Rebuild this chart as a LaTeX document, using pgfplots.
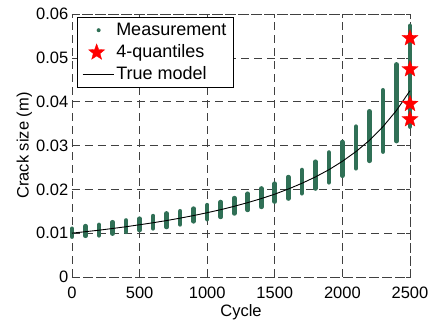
\documentclass[border=0pt]{standalone}
\usepackage{pgfplots}
\pgfplotsset{compat=1.18}
\usepackage{fontspec}
\setmainfont{Liberation Sans}
\definecolor{meas}{RGB}{48,112,86}
\newcommand\fs{\fontsize{16.5}{19}\selectfont}
\newcommand\fl{\fontsize{18}{20}\selectfont}
\pgfdeclareplotmark{fstar}{%
 \pgfpathmoveto{\pgfpointpolar{90}{\pgfplotmarksize}}%
 \pgfpathlineto{\pgfpointpolar{126}{0.42\pgfplotmarksize}}%
 \pgfpathlineto{\pgfpointpolar{162}{\pgfplotmarksize}}%
 \pgfpathlineto{\pgfpointpolar{198}{0.42\pgfplotmarksize}}%
 \pgfpathlineto{\pgfpointpolar{234}{\pgfplotmarksize}}%
 \pgfpathlineto{\pgfpointpolar{270}{0.42\pgfplotmarksize}}%
 \pgfpathlineto{\pgfpointpolar{306}{\pgfplotmarksize}}%
 \pgfpathlineto{\pgfpointpolar{342}{0.42\pgfplotmarksize}}%
 \pgfpathlineto{\pgfpointpolar{18}{\pgfplotmarksize}}%
 \pgfpathlineto{\pgfpointpolar{54}{0.42\pgfplotmarksize}}%
 \pgfpathclose
 \pgfusepathqfillstroke}
\begin{document}
\begin{tikzpicture}
\useasboundingbox (-72pt,-44pt) rectangle (359pt,277pt);
\begin{axis}[
 at={(0pt,0pt)}, anchor=south west,
 scale only axis, width=338pt, height=263pt,
 xmin=0, xmax=2500, ymin=0, ymax=0.06,
 xtick={0,500,1000,1500,2000,2500},
 xticklabels={0,500,1000,1500,2000,2500},
 ytick={0,0.01,0.02,0.03,0.04,0.05,0.06},
 yticklabels={0,0.01,0.02,0.03,0.04,0.05,0.06},
 scaled y ticks=false, scaled x ticks=false,
 /pgf/number format/assume math mode=true,
 tick label style={font=\fs},
 yticklabel style={inner sep=3.5pt},
 xticklabel style={inner sep=2pt, yshift=-8pt},
 label style={font=\fs},
 xlabel={Cycle}, ylabel={Crack size (m)},
 xlabel style={yshift=0pt},
 ylabel style={yshift=-3pt},
 grid=major,
 grid style={black!75, line width=0.6pt, dash pattern=on 8pt off 5pt},
 axis line style={black!75, line width=0.6pt, dash pattern=on 8pt off 5pt},
 tick align=inside, major tick length=4pt,
 tick style={black!75, line width=0.6pt},
 clip=false,
 unbounded coords=jump,
 legend style={at={(0.0157,0.9897)}, anchor=north west, draw=black,
   line width=0.8pt, font=\fl, fill=white,
   inner xsep=4.5pt, inner ysep=2pt, row sep=0pt,
   nodes={inner xsep=2.15pt, inner ysep=2.85pt, text height=13.5pt, text depth=3pt},
   cells={anchor=west}},
 legend cell align=left,
]
\addplot[meas, line width=4.6pt, line cap=round,
  legend image code/.code={\path[draw=none,fill=none] (0pt,0pt) -- (31pt,0pt);\fill[meas, draw=none] (16pt,0pt) circle (2pt);}]
 table[row sep=\\] {
x y\\
0 0.0092\\ 0 0.0110\\ 0 nan\\
100 0.0094\\ 100 0.0116\\ 100 nan\\
200 0.0095\\ 200 0.0119\\ 200 nan\\
300 0.0099\\ 300 0.0125\\ 300 nan\\
400 0.0103\\ 400 0.0129\\ 400 nan\\
500 0.0107\\ 500 0.0133\\ 500 nan\\
600 0.0111\\ 600 0.0139\\ 600 nan\\
700 0.0114\\ 700 0.0145\\ 700 nan\\
800 0.0120\\ 800 0.0150\\ 800 nan\\
900 0.0127\\ 900 0.0156\\ 900 nan\\
1000 0.0132\\ 1000 0.0164\\ 1000 nan\\
1100 0.0137\\ 1100 0.0171\\ 1100 nan\\
1200 0.0145\\ 1200 0.0180\\ 1200 nan\\
1300 0.0153\\ 1300 0.0190\\ 1300 nan\\
1400 0.0160\\ 1400 0.0202\\ 1400 nan\\
1500 0.0172\\ 1500 0.0213\\ 1500 nan\\
1600 0.0179\\ 1600 0.0228\\ 1600 nan\\
1700 0.0191\\ 1700 0.0244\\ 1700 nan\\
1800 0.0202\\ 1800 0.0263\\ 1800 nan\\
1900 0.0216\\ 1900 0.0284\\ 1900 nan\\
2000 0.0231\\ 2000 0.0308\\ 2000 nan\\
2100 0.0248\\ 2100 0.0343\\ 2100 nan\\
2200 0.0265\\ 2200 0.0378\\ 2200 nan\\
2300 0.0286\\ 2300 0.0426\\ 2300 nan\\
2400 0.0310\\ 2400 0.0485\\ 2400 nan\\
2500 0.0343\\ 2500 0.0573\\
};
\addlegendentry{Measurement}
\addplot[only marks, mark=fstar, mark size=8.5pt, red, fill=red, line width=0.3pt,
  legend image code/.code={\path[draw=none,fill=none] (0pt,0pt) -- (31pt,0pt);\pgftransformshift{\pgfpoint{14pt}{0pt}}\pgfuseplotmark{fstar}}]
 table[row sep=\\] {
x y\\
2500 0.0545\\
2500 0.0474\\
2500 0.0395\\
2500 0.0360\\
};
\addlegendentry{4-quantiles}
\addplot[black, line width=0.9pt, no marks,
  legend image code/.code={\draw[black, line width=0.9pt] (0pt,0pt) -- (31pt,0pt);}]
 table[row sep=\\] {
x y\\
0 0.01000\\
100 0.01034\\
200 0.01068\\
300 0.01107\\
400 0.01147\\
500 0.01192\\
600 0.01238\\
700 0.01288\\
800 0.01343\\
900 0.01402\\
1000 0.01467\\
1100 0.01536\\
1200 0.01613\\
1300 0.01697\\
1400 0.01789\\
1500 0.01890\\
1600 0.02007\\
1700 0.02137\\
1800 0.02282\\
1900 0.02447\\
2000 0.02640\\
2100 0.02860\\
2200 0.03117\\
2300 0.03430\\
2400 0.03800\\
2500 0.04250\\
};
\addlegendentry{True model}
\end{axis}
\end{tikzpicture}
\end{document}
